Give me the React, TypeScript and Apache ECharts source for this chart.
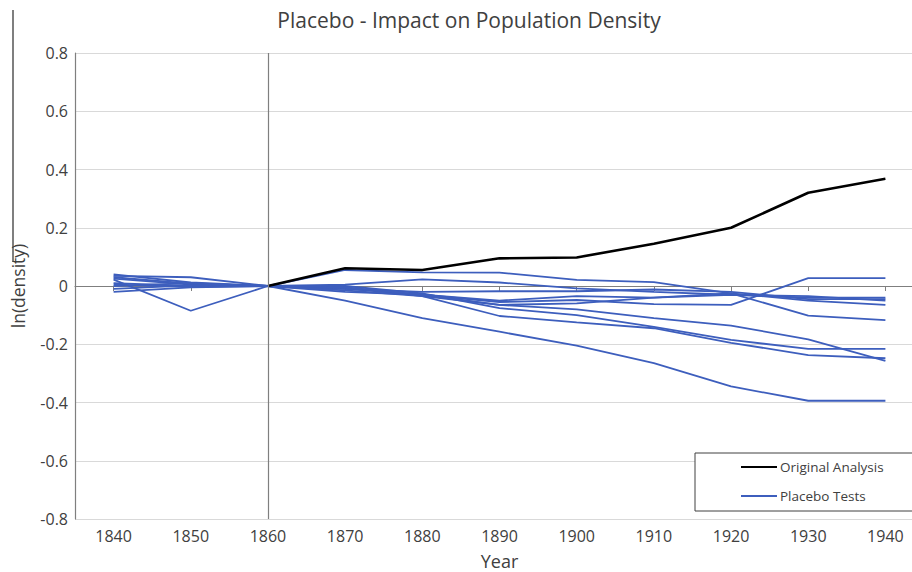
import React, { useEffect, useRef } from 'react';
import * as echarts from 'echarts';

const years = ['1840', '1850', '1860', '1870', '1880', '1890', '1900', '1910', '1920', '1930', '1940'];
const yTicks = [-0.8, -0.6, -0.4, -0.2, 0, 0.2, 0.4, 0.6, 0.8];

const originalAnalysis = [null, null, 0, 0.061, 0.055, 0.095, 0.098, 0.145, 0.2, 0.32, 0.368];

const placeboA = [0.04, 0.012, 0, -0.01, -0.03, -0.055, -0.048, -0.062, -0.065, 0.027, 0.027];
const placeboB = [0.035, 0.03, 0, 0.005, 0.023, 0.012, -0.008, -0.02, -0.03, -0.04, -0.04];
const placeboC = [0.022, -0.085, 0, -0.01, -0.02, -0.018, -0.018, -0.012, -0.02, -0.045, -0.045];
const placeboD = [0.025, 0.005, 0, -0.005, -0.035, -0.065, -0.06, -0.04, -0.03, -0.035, -0.05];
const placeboE = [0.01, 0.0, 0, -0.02, -0.03, -0.05, -0.035, -0.04, -0.025, -0.05, -0.065];
const placeboF = [0.0, 0.01, 0, 0.055, 0.047, 0.046, 0.021, 0.013, -0.025, -0.102, -0.117];
const placeboG = [0.005, -0.003, 0, 0.0, -0.025, -0.076, -0.1, -0.14, -0.185, -0.216, -0.216];
const placeboH = [-0.01, 0.002, 0, -0.015, -0.035, -0.103, -0.125, -0.145, -0.195, -0.237, -0.248];
const placeboI = [-0.02, -0.005, 0, -0.005, -0.03, -0.065, -0.08, -0.11, -0.136, -0.183, -0.257];
const placeboJ = [0.03, 0.008, 0, -0.05, -0.11, -0.157, -0.205, -0.265, -0.345, -0.394, -0.394];

const placeboSeries = [placeboA, placeboB, placeboC, placeboD, placeboE, placeboF, placeboG, placeboH, placeboI, placeboJ];

const FONT = "'Open Sans', 'Noto Sans', sans-serif";
const BLUE = '#3D5EBD';

export default function App() {
  const ref = useRef<HTMLDivElement>(null);

  useEffect(() => {
    if (!ref.current) return;
    const chart = echarts.init(ref.current, null, { renderer: 'svg' });

    const series: any[] = placeboSeries.map((data, i) => ({
      name: 'Placebo Tests',
      type: 'line',
      data,
      symbol: 'none',
      lineStyle: { color: BLUE, width: 1.8 },
      itemStyle: { color: BLUE },
      z: 2,
      ...(i === 0
        ? {
            markLine: {
              silent: true,
              symbol: ['none', 'none'],
              label: { show: false },
              lineStyle: { color: '#7f7f7f', width: 1.2, type: 'solid' },
              data: [{ xAxis: '1860' }],
            },
          }
        : {}),
    }));

    series.push({
      name: 'Original Analysis',
      type: 'line',
      data: originalAnalysis,
      symbol: 'none',
      lineStyle: { color: '#000000', width: 2.6 },
      itemStyle: { color: '#000000' },
      z: 3,
    });

    chart.setOption({
      animation: false,
      backgroundColor: '#ffffff',
      title: {
        text: 'Placebo - Impact on Population Density',
        left: 464,
        top: 4,
        textAlign: 'center',
        textStyle: { fontFamily: FONT, fontSize: 21, fontWeight: 'normal', color: '#404040' },
      },
      grid: { left: 75, right: -12, top: 53, bottom: 53, containLabel: false, outerBoundsMode: 'none' },
      legend: {
        data: ['Original Analysis', 'Placebo Tests'],
        orient: 'vertical',
        left: 695,
        top: 453,
        padding: [7, 40, 8, 45],
        itemWidth: 36,
        itemHeight: 14,
        itemGap: 15,
        itemStyle: { opacity: 0 },
        backgroundColor: '#ffffff',
        borderColor: '#404040',
        borderWidth: 1,
        borderRadius: 0,
        textStyle: { fontFamily: FONT, fontSize: 13.5, color: '#404040', padding: [0, 0, 0, -2] },
      },
      xAxis: {
        type: 'category',
        data: years,
        boundaryGap: true,
        name: 'Year',
        nameLocation: 'middle',
        nameGap: 33,
        nameTextStyle: { fontFamily: FONT, fontSize: 18, color: '#404040' },
        axisLine: { lineStyle: { color: '#7f7f7f', width: 1.2 } },
        axisTick: { show: true, alignWithLabel: true, length: 5, lineStyle: { color: '#7f7f7f' } },
        axisLabel: { fontFamily: FONT, fontSize: 16, color: '#404040', margin: 9 },
        splitLine: { show: false },
      },
      yAxis: {
        type: 'value',
        min: yTicks[0],
        max: yTicks[yTicks.length - 1],
        interval: 0.2,
        name: 'ln(density)',
        nameLocation: 'middle',
        nameGap: 48,
        nameTextStyle: { fontFamily: FONT, fontSize: 17.5, color: '#404040' },
        axisLine: { show: true, lineStyle: { color: '#7f7f7f', width: 1.2 } },
        axisTick: { show: false },
        axisLabel: {
          fontFamily: FONT,
          fontSize: 16,
          color: '#404040',
          margin: 7,
          formatter: (v: number) => {
            const r = Math.round(v * 10) / 10;
            return r === 0 ? '0' : String(r);
          },
        },
        splitLine: { show: true, lineStyle: { color: '#d9d9d9', width: 1 } },
      },
      graphic: [
        {
          type: 'line',
          shape: { x1: 13, y1: 10, x2: 13, y2: 262 },
          style: { stroke: '#555555', lineWidth: 1.5 },
          silent: true,
        },
      ],
      series,
    });

    return () => chart.dispose();
  }, []);

  return (
    <div
      ref={ref}
      style={{ position: 'fixed', left: 0, top: 0, width: 912, height: 572, background: '#fff' }}
    />
  );
}
